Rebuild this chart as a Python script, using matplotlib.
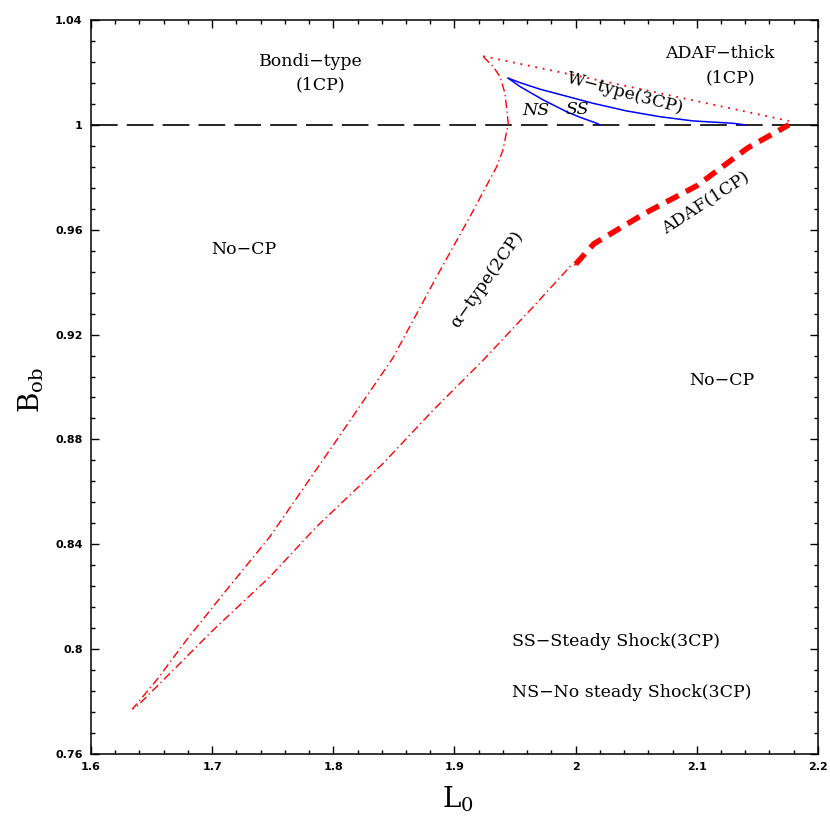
import matplotlib
matplotlib.use("Agg")
import matplotlib.pyplot as plt
from matplotlib.ticker import MultipleLocator, FuncFormatter

plt.rcParams['mathtext.fontset'] = 'dejavuserif'

# alpha-type (2CP) boundary: upper branch from top down to the tip, then lower branch
alpha_L = [1.9238, 1.9320, 1.9376, 1.9417, 1.9444, 1.9400, 1.9348, 1.9128, 1.8853,
           1.8492, 1.7972, 1.7477, 1.7051, 1.6789, 1.6542, 1.6349, 1.6345,
           1.6376, 1.6679, 1.7009, 1.7477, 1.7862, 1.8412, 1.8825, 1.9238,
           1.9650, 1.9953, 2.0000]
alpha_B = [1.0260, 1.0222, 1.0184, 1.0120, 1.0006, 0.9904, 0.9840, 0.9650, 0.9421,
           0.9111, 0.8760, 0.8429, 0.8187, 0.8035, 0.7882, 0.7775, 0.7772,
           0.7780, 0.7920, 0.8073, 0.8276, 0.8467, 0.8709, 0.8912, 0.9103,
           0.9306, 0.9459, 0.9468]

# ADAF-thick boundary (dotted)
thick_L = [1.9238, 2.0500, 2.1760]
thick_B = [1.0262, 1.0140, 1.0015]

# ADAF (1CP) boundary (thick dashed)
adaf_L = [2.0000, 2.0080, 2.0150, 2.0577, 2.1002, 2.1420, 2.1760]
adaf_B = [0.9468, 0.9510, 0.9546, 0.9664, 0.9768, 0.9912, 1.0000]

# W-type (3CP) region: upper and lower blue curves
wup_L = [1.9444, 1.9541, 1.9706, 2.0146, 2.0422, 2.0697, 2.0969, 2.1299, 2.1400]
wup_B = [1.0178, 1.0161, 1.0136, 1.0082, 1.0053, 1.0031, 1.0015, 1.0006, 1.0000]
wlo_L = [1.9444, 1.9541, 1.9733, 1.9926, 2.0036, 2.0174, 2.0200]
wlo_B = [1.0178, 1.0146, 1.0095, 1.0050, 1.0029, 1.0006, 1.0000]

# B = 1 reference line
ref_L_dash = [1.6, 2.176]
ref_L_solid = [2.176, 2.2]
ref_B = [1.0, 1.0]

fig = plt.figure(figsize=(8.3, 8.3), dpi=100)
ax = fig.add_axes([0.1096, 0.0916, 0.8759, 0.8843])

ax.plot(ref_L_dash, ref_B, color='black', lw=1.2, dashes=(16, 5.5))
ax.plot(ref_L_solid, ref_B, color='black', lw=1.2)
ax.plot(alpha_L, alpha_B, color='red', lw=1.0, dashes=(6, 2.5, 1, 2.5))
ax.plot(thick_L, thick_B, color='red', lw=1.3, dashes=(1, 3.2))
ax.plot(adaf_L, adaf_B, color='red', lw=4, dashes=(2.5, 1.5))
ax.plot(wup_L, wup_B, color='blue', lw=1.1)
ax.plot(wlo_L, wlo_B, color='blue', lw=1.1)

ax.set_xlim(1.6, 2.2)
ax.set_ylim(0.76, 1.04)

ax.xaxis.set_major_locator(MultipleLocator(0.1))
ax.xaxis.set_minor_locator(MultipleLocator(0.02))
ax.yaxis.set_major_locator(MultipleLocator(0.04))
ax.yaxis.set_minor_locator(MultipleLocator(0.008))
fmt = FuncFormatter(lambda v, p: '%g' % round(v, 3))
ax.xaxis.set_major_formatter(fmt)
ax.yaxis.set_major_formatter(fmt)
ax.tick_params(which='both', direction='in', top=True, right=True, width=1.0)
ax.tick_params(which='major', length=6, labelsize=8, pad=6)
ax.tick_params(which='minor', length=3)
for lab in ax.get_xticklabels() + ax.get_yticklabels():
    lab.set_fontweight('bold')
for s in ax.spines.values():
    s.set_linewidth(1.1)

ax.set_xlabel(r'$\mathrm{L_0}$', fontsize=20)
ax.set_ylabel(r'$\mathrm{B_{ob}}$', fontsize=20)
ax.xaxis.set_label_coords(0.505, -0.042)
ax.yaxis.set_label_coords(-0.062, 0.496)

tf = dict(family='DejaVu Serif', fontsize=12.5, ha='center', va='center')
ax.text(1.7816, 1.0240, 'Bondi\u2212type', **tf)
ax.text(1.7891, 1.0152, '(1CP)', **tf)
ax.text(2.1191, 1.0274, 'ADAF\u2212thick', **tf)
ax.text(2.1274, 1.0179, '(1CP)', **tf)
ax.text(2.0407, 1.0122, 'W\u2212type(3CP)', rotation=-15, **tf)
ax.text(1.9673, 1.0053, 'NS', style='italic', **tf)
ax.text(2.0010, 1.0060, 'SS', style='italic', **tf)
ax.text(2.1075, 0.9705, 'ADAF(1CP)', rotation=33, **tf)
ax.text(1.9270, 0.9410, '\u03b1\u2212type(2CP)', rotation=55, **tf)
ax.text(1.7263, 0.9523, 'No\u2212CP', **tf)
ax.text(2.1208, 0.9023, 'No\u2212CP', **tf)
lf = dict(family='DejaVu Serif', fontsize=12.5, ha='left', va='center')
ax.text(1.9471, 0.8028, 'SS\u2212Steady Shock(3CP)', **lf)
ax.text(1.9471, 0.7836, 'NS\u2212No steady Shock(3CP)', **lf)

fig.savefig('out.png', dpi=100)
